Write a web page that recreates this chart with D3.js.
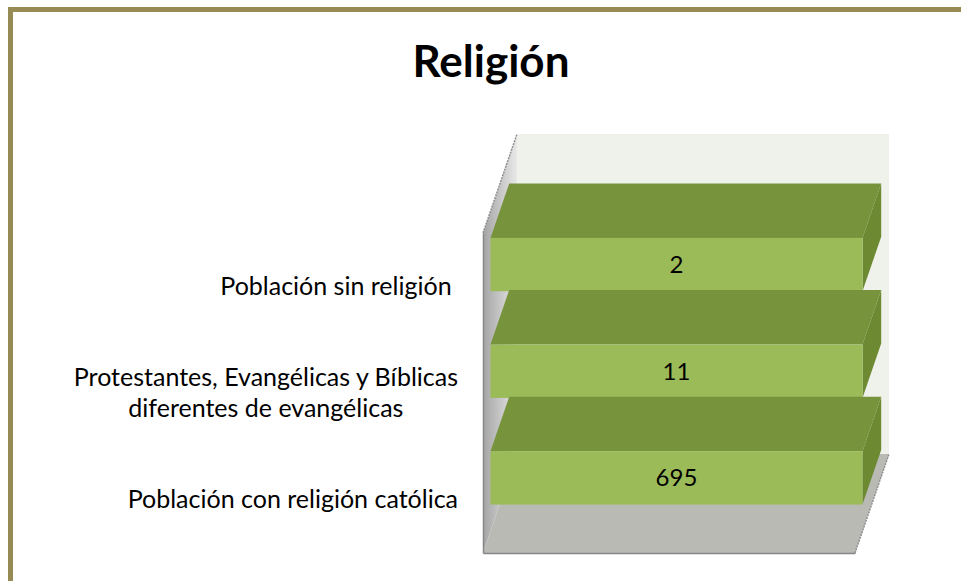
<!DOCTYPE html>
<html>
<head>
<meta charset="utf-8">
<script src="https://cdn.jsdelivr.net/npm/d3@7"></script>
<style>
  html, body { margin: 0; padding: 0; background: #fff; }
  svg { display: block; font-family: Lato, "Open Sans", sans-serif; }
</style>
</head>
<body>
<svg id="chart" width="961" height="581"></svg>
<script>
"use strict";

// data, bottom to top as in the original
const categories = [
    "Población con religión católica",
    "Protestantes, Evangélicas y Bíblicas\ndiferentes de evangélicas",
    "Población sin religión "
];
const values = [695, 11, 2];
const title = "Religión";

const svg = d3.select("#chart");

// olive frame
svg.append("rect")
    .attr("x", 10.5).attr("y", 9.5)
    .attr("width", 1000).attr("height", 700)
    .attr("fill", "none")
    .attr("stroke", "#978b55")
    .attr("stroke-width", 5);

svg.append("text")
    .attr("x", 491).attr("y", 77)
    .attr("text-anchor", "middle")
    .attr("font-size", 44)
    .attr("font-weight", "bold")
    .attr("fill", "#000")
    .text(title);

// front plane of the plot + depth vector (3d look)
const plot = { left: 483, right: 855, top: 233, bottom: 553 };
const depth = { dx: 34, dy: -99 };
const barFront = 0.22, barBack = 0.77;

const x = d3.scaleLinear().domain([0, 1]).range([plot.left, plot.right]);
const y = d3.scaleBand()
    .domain(categories)
    .range([plot.bottom, plot.top])
    .paddingInner(0.5)
    .paddingOuter(0.25);

const rows = categories.map((c, i) => ({ cat: c, valor: values[i] }));
const series = d3.stack().keys(["valor"]).offset(d3.stackOffsetExpand)(rows);

const defs = svg.append("defs");
const grad = defs.append("linearGradient")
    .attr("id", "wallL")
    .attr("x1", "0").attr("x2", "1").attr("y1", "0").attr("y2", "0");
grad.append("stop").attr("offset", "0").attr("stop-color", "#a4a4a4");
grad.append("stop").attr("offset", "1").attr("stop-color", "#e8e8e8");

const pts = (arr) => arr.map(p => p.join(",")).join(" ");
const bx = plot.left + depth.dx, by = plot.top + depth.dy;

// back wall
svg.append("polygon")
    .attr("points", pts([
        [bx, by], [plot.right + depth.dx, by],
        [plot.right + depth.dx, plot.bottom + depth.dy], [bx, plot.bottom + depth.dy]
    ]))
    .attr("fill", "#eff1eb");

// left wall
svg.append("polygon")
    .attr("points", pts([
        [plot.left, plot.top], [bx, by],
        [bx, plot.bottom + depth.dy], [plot.left, plot.bottom]
    ]))
    .attr("fill", "url(#wallL)");

svg.append("line")
    .attr("x1", plot.left).attr("y1", plot.top)
    .attr("x2", bx).attr("y2", by)
    .attr("stroke", "#8f8f8f").attr("stroke-width", 1.5)
    .attr("stroke-dasharray", "2,1");

// floor
svg.append("polygon")
    .attr("points", pts([
        [plot.left, plot.bottom], [plot.right, plot.bottom],
        [plot.right + depth.dx, plot.bottom + depth.dy], [bx, plot.bottom + depth.dy]
    ]))
    .attr("fill", "#b9bab4");

svg.append("line")
    .attr("x1", plot.right).attr("y1", plot.bottom)
    .attr("x2", plot.right + depth.dx).attr("y2", plot.bottom + depth.dy)
    .attr("stroke", "#8f8f8f").attr("stroke-width", 1.5)
    .attr("stroke-dasharray", "2,1");

// axes (lines only)
svg.append("g")
    .attr("transform", `translate(${plot.left},0)`)
    .call(d3.axisLeft(y).tickSize(0).tickFormat(""))
    .call(g => g.select(".domain").attr("stroke", "#868686").attr("stroke-width", 1.5));

svg.append("g")
    .attr("transform", `translate(0,${plot.bottom})`)
    .call(d3.axisBottom(x).tickSize(0).tickFormat(""))
    .call(g => g.select(".domain").attr("stroke", "#868686").attr("stroke-width", 1.5));

// bars, top one first
const f0 = { dx: depth.dx * barFront, dy: depth.dy * barFront };
const fd = { dx: depth.dx * (barBack - barFront), dy: depth.dy * (barBack - barFront) };
const bw = y.bandwidth();

const barData = series[0].map((s, i) => ({ s: s, cat: categories[i], value: values[i] })).reverse();

const bars = svg.selectAll(".bar")
    .data(barData)
    .enter().append("g")
    .attr("class", "bar");

bars.append("polygon")
    .attr("points", d => {
        const x0 = x(d.s[0]) + f0.dx, x1 = x(d.s[1]) + f0.dx;
        const yt = y(d.cat) + f0.dy;
        return pts([[x0, yt], [x0 + fd.dx, yt + fd.dy], [x1 + fd.dx, yt + fd.dy], [x1, yt]]);
    })
    .attr("fill", "#77933c");

bars.append("polygon")
    .attr("points", d => {
        const x1 = x(d.s[1]) + f0.dx;
        const yt = y(d.cat) + f0.dy;
        return pts([[x1, yt], [x1 + fd.dx, yt + fd.dy], [x1 + fd.dx, yt + bw + fd.dy], [x1, yt + bw]]);
    })
    .attr("fill", "#6d8a33");

bars.append("rect")
    .attr("x", d => x(d.s[0]) + f0.dx)
    .attr("y", d => y(d.cat) + f0.dy)
    .attr("width", d => x(d.s[1]) - x(d.s[0]))
    .attr("height", bw)
    .attr("fill", "#9bbb59");

bars.append("text")
    .attr("x", d => (x(d.s[0]) + x(d.s[1])) / 2 + f0.dx)
    .attr("y", d => y(d.cat) + f0.dy + bw / 2)
    .attr("dy", "0.35em")
    .attr("text-anchor", "middle")
    .attr("font-size", 24)
    .attr("fill", "#000")
    .text(d => d.value);

// category labels, right aligned block with centred lines
const labelRight = 458;
const lineH = 31;
categories.forEach(c => {
    const lines = c.split("\n");
    const t = svg.append("text")
        .attr("font-size", 25)
        .attr("fill", "#000")
        .style("white-space", "pre");
    const cy = y(c) + bw / 2;
    lines.forEach((ln, j) => {
        t.append("tspan")
            .attr("y", cy + (j - (lines.length - 1) / 2) * lineH)
            .attr("dy", "0.35em")
            .text(ln);
    });
    let w = 0;
    t.selectAll("tspan").each(function () { w = Math.max(w, this.getComputedTextLength()); });
    t.attr("text-anchor", "middle");
    t.selectAll("tspan").attr("x", labelRight - w / 2);
});
</script>
</body>
</html>
